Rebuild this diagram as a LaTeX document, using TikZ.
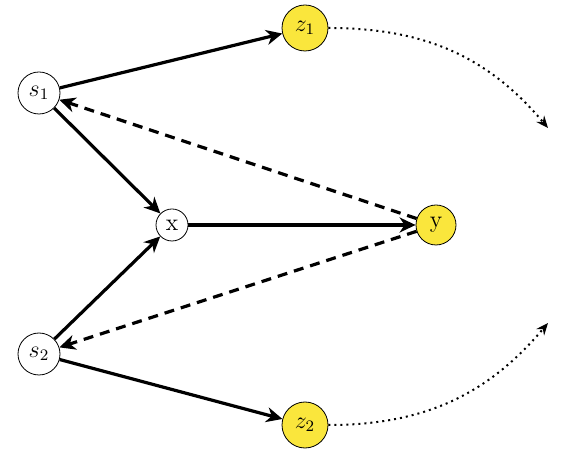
\documentclass[tikz,border=0pt]{standalone}
\usetikzlibrary{arrows.meta}
\definecolor{nodeyellow}{RGB}{250,230,60}
\tikzset{
  var/.style={circle,draw,thin,inner sep=0pt,minimum size=21pt,font=\large},
  obs/.style={var,fill=nodeyellow},
  edge/.style={-{Stealth[length=8pt,width=7.5pt,inset=2.5pt]},line width=1.6pt},
  back/.style={edge,dash pattern=on 5pt off 3.5pt},
  loose/.style={-{Stealth[length=6pt,width=5pt,inset=2pt]},line width=1pt,dotted}
}
\begin{document}
\begin{tikzpicture}[x=0.5pt,y=0.5pt]
  \useasboundingbox (0,0) rectangle (565,448);
  % Sources
  \node[var] (s1) at (39,355) {$s_1$};
  \node[var] (s2) at (39,94) {$s_2$};
  \node[var,minimum size=16pt] (x) at (172,223) {x};
  % Outputs
  \node[obs,minimum size=20pt] (y) at (436,223) {y};
  \node[obs,minimum size=23pt] (z1) at (305,420) {$z_1$};
  \node[obs,minimum size=23pt] (z2) at (305,23) {$z_2$};
  \coordinate (e1) at (548,320);
  \coordinate (e2) at (548,125);
  % Forward edges
  \draw[edge] (s1) -- (z1);
  \draw[edge] (s1) -- (x);
  \draw[edge] (s2) -- (x);
  \draw[edge] (s2) -- (z2);
  \draw[edge] (x) -- (y);
  % Feedback
  \draw[back] (y) -- (s1);
  \draw[back] (y) -- (s2);
  \draw[loose] (z1) to[out=0,in=130] (e1);
  \draw[loose] (z2) to[out=0,in=-130] (e2);
\end{tikzpicture}
\end{document}
